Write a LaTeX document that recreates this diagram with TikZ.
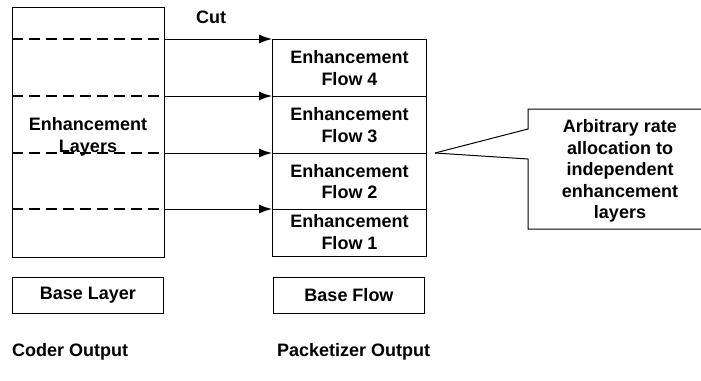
\documentclass[tikz,border=0pt]{standalone}
\usepackage{fontspec}
\setmainfont{Liberation Sans}
\usetikzlibrary{arrows.meta}
\begin{document}
\begin{tikzpicture}[x=1pt,y=-1pt,
  box/.style={draw,line width=1pt,inner sep=0pt,anchor=north west},
  lab/.style={font=\fontsize{18}{21.5}\selectfont\bfseries,align=center,inner sep=0pt},
  cutline/.style={line width=1.4pt,dash pattern=on 11pt off 6pt},
  arr/.style={line width=1pt,-{Latex[length=13pt,width=9pt]}}]
\useasboundingbox (0,0) rectangle (701,380);
% coder output box
\node[box,minimum width=152,minimum height=250] (coder) at (12,7) {};
\node[lab] (enhlab) at (88,137) {Enhancement\\Layers};
% packetizer flows
\node[box,minimum width=154,minimum height=57] (flow4) at (272,39) {};
\node[box,minimum width=154,minimum height=57] (flow3) at (272,96) {};
\node[box,minimum width=154,minimum height=56] (flow2) at (272,153) {};
\node[box,minimum width=154,minimum height=47] (flow1) at (272,209) {};
\node[lab] (f4t) at (flow4.center) {Enhancement\\Flow 4};
\node[lab] (f3t) at (flow3.center) {Enhancement\\Flow 3};
\node[lab] (f2t) at (flow2.center) {Enhancement\\Flow 2};
\node[lab] (f1t) at ([yshift=1pt]flow1.center) {Enhancement\\Flow 1};
% cut lines
\foreach \i/\yy in {4/39,3/96,2/153,1/209}{
  \coordinate (l\i) at (12,\yy);
  \coordinate (r\i) at (164,\yy);
  \draw[cutline] (l\i) -- (r\i);
  \draw[arr] (r\i) -- (flow\i.north west);
}
\node[lab] (cut) at (211,17) {Cut};
% callout
\coordinate (tip) at (435,153);
\coordinate (c1) at (528,129);
\coordinate (c2) at (528,109);
\coordinate (c3) at (705,109);
\coordinate (c4) at (705,229);
\coordinate (c5) at (528,229);
\coordinate (c6) at (528,159);
\draw[line width=1pt] (tip) -- (c1) -- (c2) -- (c3);
\draw[line width=1pt] (c4) -- (c5) -- (c6) -- (tip);
\node[lab] (calltext) at (620,171) {Arbitrary rate\\allocation to\\independent\\enhancement\\layers};
% base boxes
\node[box,minimum width=151,minimum height=36] (base) at (12,277) {};
\node[lab] (baset) at (base.center) {Base Layer};
\node[box,minimum width=151,minimum height=36] (baseflow) at (273,277) {};
\node[lab] (baseflowt) at (baseflow.center) {Base Flow};
% captions
\node[lab,anchor=west] (coderout) at (12,352) {Coder Output};
\node[lab,anchor=west] (packout) at (277,352) {Packetizer Output};
\end{tikzpicture}
\end{document}
